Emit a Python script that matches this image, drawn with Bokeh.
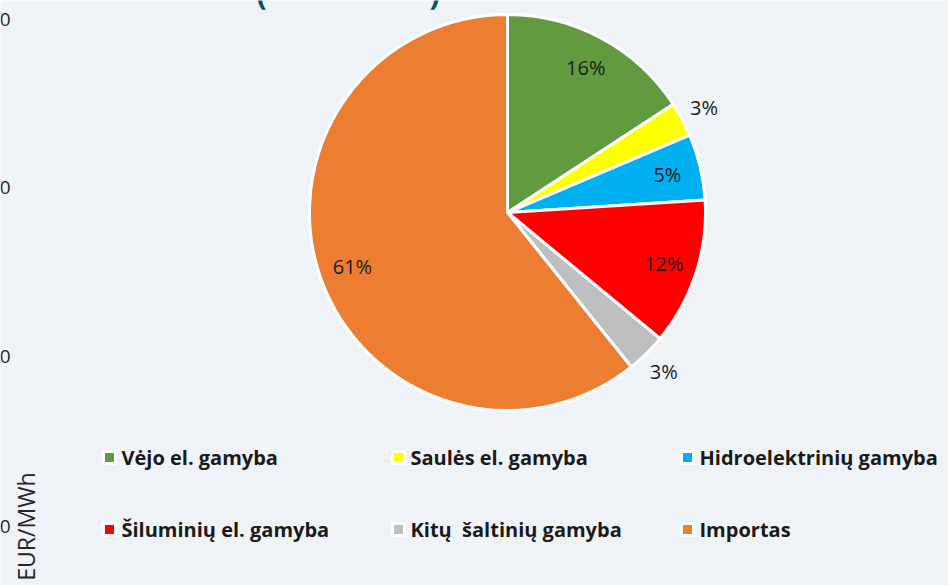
import math
from bokeh.plotting import figure
from bokeh.models import Range1d, ColumnDataSource
from bokeh.core.properties import value
from bokeh.embed import file_html
from bokeh.resources import INLINE

# ---- data ----
categories = ["Vėjo el. gamyba", "Saulės el. gamyba", "Hidroelektrinių gamyba",
              "Šiluminių el. gamyba", "Kitų\u00a0 šaltinių gamyba", "Importas"]
shares = [15.8, 2.8, 5.4, 12.0, 3.25, 60.75]
colors = ["#629A40", "#FFFF00", "#00B0F0", "#FF0000", "#BFBFBF", "#ED7D31"]
label_outside = [False, True, False, False, True, False]
axis_ticks_remnant = ["0", "0", "0", "0"]
axis_label_remnant = "EUR/MWh"

# ---- layout (reference pixel coordinates, y measured downward) ----
W, H = 948, 585
BG = "#EFF3F7"
CX, CY, R = 507, 212, 198

def Y(y):
    return H - y

p = figure(width=W, height=H, output_backend="svg",
           toolbar_location=None, x_range=Range1d(0, W),
           y_range=Range1d(0, H), min_border=0)
p.axis.visible = False
p.grid.visible = False
p.outline_line_color = None
p.background_fill_color = BG
p.border_fill_color = BG

total = sum(shares)
starts, ends, mids = [], [], []
cum = 0.0
for s in shares:
    a0 = math.pi / 2 - 2 * math.pi * cum / total
    cum += s
    a1 = math.pi / 2 - 2 * math.pi * cum / total
    starts.append(a0); ends.append(a1); mids.append((a0 + a1) / 2)

src = ColumnDataSource(dict(start=starts, end=ends, color=colors, cat=categories))
p.wedge(x=CX, y=Y(CY), radius=R, start_angle="start", end_angle="end",
        direction="clock", fill_color="color", line_color="white", line_width=3,
        source=src)

# percentage labels
lx, ly, lt = [], [], []
for s, m, out in zip(shares, mids, label_outside):
    rr = R * (1.125 if out else 0.83)
    lx.append(CX + rr * math.cos(m))
    ly.append(Y(CY) + rr * math.sin(m))
    lt.append(f"{round(s / total * 100)}%")
p.text(x=lx, y=ly, text=lt, text_align="center", text_baseline="middle",
       text_font=value("Open Sans"), text_font_size="20px", text_color="#1A1A1A")

# legend (3 columns x 2 rows)
col_x = [109, 398, 687]
row_y = [457, 529]
mx, my, tx = [], [], []
for i in range(len(categories)):
    mx.append(col_x[i % 3]); my.append(Y(row_y[i // 3]))
    tx.append(col_x[i % 3] + 12)
p.rect(x=mx, y=my, width=15, height=15, fill_color="white", line_color=None)
p.rect(x=mx, y=my, width=9, height=9, fill_color=colors, line_color=None)
p.text(x=tx, y=my, text=categories, text_align="left", text_baseline="middle",
       text_font=value("Open Sans"), text_font_size="20px", text_font_style="bold",
       text_color="#1A1A1A")

# remnants of underlying chart (left axis) and title
tick_y = [19, 187, 356, 526]
p.text(x=[10] * 4, y=[Y(v) for v in tick_y], text=axis_ticks_remnant,
       text_align="right", text_baseline="middle", text_font=value("Open Sans"),
       text_font_size="19px", text_color="#262626")
p.text(x=[25], y=[Y(472)], text=[axis_label_remnant], angle=math.pi / 2,
       text_align="right", text_baseline="alphabetic", text_font=value("Open Sans"),
       text_font_size="23px", text_color="#262626")
p.text(x=[261, 434], y=[Y(-7), Y(-7)], text=["(", ")"], text_align="center",
       text_baseline="alphabetic", text_font=value("Open Sans"), text_font_size="30px",
       text_font_style="bold", text_color="#0E5160")

open("out.html", "w").write(file_html(p, INLINE))
